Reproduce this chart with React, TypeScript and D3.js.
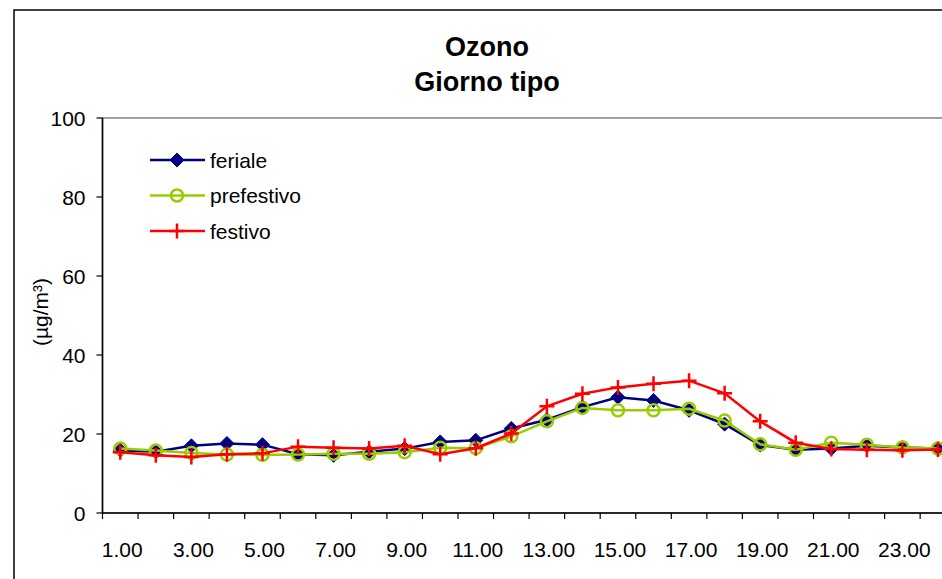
import React from "react";
import * as d3 from "d3";

const hours = ["1.00","2.00","3.00","4.00","5.00","6.00","7.00","8.00","9.00","10.00","11.00","12.00","13.00","14.00","15.00","16.00","17.00","18.00","19.00","20.00","21.00","22.00","23.00","24.00"];
const feriale = [15.9,15.5,17.0,17.6,17.3,14.9,14.6,15.5,16.3,18.0,18.4,21.4,23.6,26.8,29.3,28.5,26.0,22.5,17.2,16.0,16.3,17.0,16.6,16.3];
const prefestivo = [16.3,15.8,15.2,14.8,14.7,14.8,15.0,15.0,15.4,16.5,16.4,19.4,23.2,26.6,26.0,26.0,26.4,23.4,17.4,16.0,17.8,17.3,16.6,16.3];
const festivo = [15.4,14.6,14.2,14.9,15.1,16.8,16.5,16.3,17.0,14.9,16.4,20.1,27.0,30.2,31.8,32.7,33.5,30.3,23.2,17.8,16.2,16.0,15.9,16.1];
const yTicks = [0,20,40,60,80,100];
const seriesNames = ["feriale","prefestivo","festivo"];
const colors = ["#000080","#99CC00","#FF0000"];

const W = 942, H = 579;
const left = 102.5, right = 955.7, top = 118, bottom = 513;
const font = "'Liberation Sans', Arial, sans-serif";
const fs = 21;

function Marker({ kind, x, y }: { kind: number; x: number; y: number }) {
  if (kind === 0) {
    const s = 7;
    return <path d={`M${x},${y - s}L${x + s},${y}L${x},${y + s}L${x - s},${y}Z`} fill="#000080" stroke="#000080" strokeWidth={1} />;
  }
  if (kind === 1) {
    return <circle cx={x} cy={y} r={6} fill="none" stroke="#99CC00" strokeWidth={2.5} />;
  }
  const s = 7.5;
  return <path d={`M${x - s},${y}H${x + s}M${x},${y - s}V${y + s}`} stroke="#FF0000" strokeWidth={2.5} fill="none" />;
}

export default function App() {
  const x = d3.scaleBand().domain(hours).range([left, right]).padding(0);
  const y = d3.scaleLinear().domain([0, 100]).range([bottom, top]);
  const data = [feriale, prefestivo, festivo];
  const line = d3.line<number>().x((_, i) => (x(hours[i]) as number) + x.bandwidth() / 2).y((d) => y(d));
  const bw = x.bandwidth();

  return (
    <svg width={W} height={H} style={{ position: "absolute", left: 0, top: 0, background: "#fff" }}>
      <rect x={14} y={10} width={W + 20} height={H + 20} fill="#fff" stroke="#000" strokeWidth={1.5} />
      <text x={487} y={56} textAnchor="middle" fontFamily={font} fontWeight="bold" fontSize={27}>Ozono</text>
      <text x={487} y={91} textAnchor="middle" fontFamily={font} fontWeight="bold" fontSize={27}>Giorno tipo</text>
      {/* plot frame */}
      <rect x={left} y={top} width={right - left} height={bottom - top} fill="none" stroke="#808080" strokeWidth={1.5} />
      {/* y axis */}
      <line x1={left} x2={left} y1={top} y2={bottom} stroke="#000" strokeWidth={1.5} />
      {yTicks.map((t) => (
        <g key={t}>
          <line x1={left - 6} x2={left} y1={y(t)} y2={y(t)} stroke="#000" strokeWidth={1.2} />
          <text x={left - 17} y={y(t) + 7.5} textAnchor="end" fontFamily={font} fontSize={fs}>{t}</text>
        </g>
      ))}
      {/* x axis */}
      <line x1={left} x2={right} y1={bottom} y2={bottom} stroke="#000" strokeWidth={1.5} />
      {hours.map((h) => (
        <line key={"t" + h} x1={(x(h) as number)} x2={(x(h) as number)} y1={bottom} y2={bottom + 6} stroke="#000" strokeWidth={1.2} />
      ))}
      <line x1={right} x2={right} y1={bottom} y2={bottom + 6} stroke="#000" strokeWidth={1.2} />
      {hours.map((h, i) => i % 2 === 0 ? (
        <text key={"l" + h} x={(x(h) as number) + bw / 2 + 2} y={bottom + 44} textAnchor="middle" fontFamily={font} fontSize={fs}>{h}</text>
      ) : null)}
      <text transform={`translate(48,312) rotate(-90)`} textAnchor="middle" fontFamily={font} fontSize={fs}>(µg/m³)</text>
      {/* series */}
      {data.map((d, k) => (
        <g key={seriesNames[k]}>
          <path d={line(d) as string} fill="none" stroke={colors[k]} strokeWidth={2.5} />
          {d.map((v, i) => (
            <Marker key={i} kind={k} x={(x(hours[i]) as number) + bw / 2} y={y(v)} />
          ))}
        </g>
      ))}
      {/* legend */}
      {seriesNames.map((n, k) => {
        const ly = 160 + k * 35.5;
        return (
          <g key={"lg" + n}>
            <line x1={150} x2={205} y1={ly} y2={ly} stroke={colors[k]} strokeWidth={2.5} />
            <Marker kind={k} x={177} y={ly} />
            <text x={210} y={ly + 7.5} fontFamily={font} fontSize={fs}>{n}</text>
          </g>
        );
      })}
    </svg>
  );
}
